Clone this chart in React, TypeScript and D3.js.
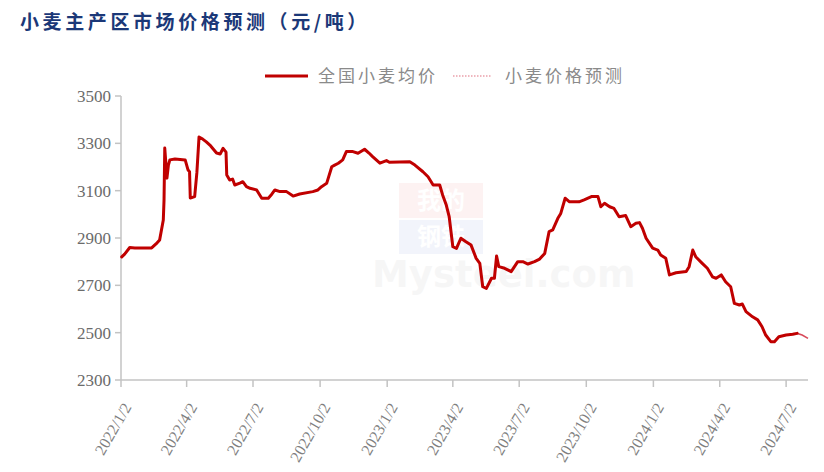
import React from "react";
import * as d3 from "d3";

const title = "小麦主产区市场价格预测（元/吨）";
const seriesNames = ["全国小麦均价", "小麦价格预测"];

const dates = ["2022-01-03","2022-01-07","2022-01-14","2022-01-21","2022-02-13","2022-02-19","2022-02-24","2022-03-01","2022-03-02","2022-03-03","2022-03-06","2022-03-08","2022-03-10","2022-03-17","2022-03-31","2022-04-04","2022-04-06","2022-04-07","2022-04-11","2022-04-13","2022-04-16","2022-04-19","2022-04-24","2022-04-29","2022-05-05","2022-05-13","2022-05-18","2022-05-22","2022-05-26","2022-05-27","2022-05-31","2022-06-04","2022-06-07","2022-06-14","2022-06-18","2022-06-23","2022-06-28","2022-07-07","2022-07-14","2022-07-23","2022-07-28","2022-08-01","2022-08-08","2022-08-17","2022-08-26","2022-09-04","2022-09-22","2022-09-29","2022-10-04","2022-10-11","2022-10-18","2022-10-22","2022-10-27","2022-11-02","2022-11-07","2022-11-16","2022-11-23","2022-12-02","2022-12-08","2022-12-13","2022-12-23","2023-01-01","2023-01-05","2023-02-02","2023-02-09","2023-02-20","2023-02-27","2023-03-06","2023-03-15","2023-03-19","2023-03-24","2023-03-28","2023-04-02","2023-04-07","2023-04-13","2023-04-20","2023-04-27","2023-05-04","2023-05-09","2023-05-13","2023-05-18","2023-05-25","2023-05-29","2023-06-01","2023-06-04","2023-06-12","2023-06-21","2023-06-30","2023-07-07","2023-07-14","2023-07-23","2023-07-30","2023-08-06","2023-08-12","2023-08-17","2023-08-24","2023-08-28","2023-09-03","2023-09-09","2023-09-22","2023-09-29","2023-10-09","2023-10-18","2023-10-22","2023-10-27","2023-11-03","2023-11-09","2023-11-16","2023-11-25","2023-12-02","2023-12-09","2023-12-14","2023-12-18","2023-12-23","2024-01-01","2024-01-08","2024-01-12","2024-01-19","2024-01-24","2024-02-02","2024-02-16","2024-02-20","2024-02-25","2024-02-29","2024-03-09","2024-03-16","2024-03-23","2024-03-28","2024-04-04","2024-04-10","2024-04-17","2024-04-22","2024-04-29","2024-05-03","2024-05-08","2024-05-17","2024-05-24","2024-05-30","2024-06-04","2024-06-11","2024-06-16","2024-06-22","2024-07-02","2024-07-11","2024-07-17"];

const avgPrice = [2820,2832,2860,2858,2858,2875,2892,2976,3060,3280,3153,3208,3230,3234,3230,3187,3180,3069,3073,3075,3175,3327,3318,3306,3289,3259,3255,3279,3263,3166,3145,3149,3124,3132,3138,3117,3110,3103,3068,3068,3086,3103,3096,3096,3077,3086,3096,3103,3117,3131,3201,3208,3216,3230,3265,3265,3258,3275,3259,3244,3216,3227,3220,3222,3208,3180,3159,3124,3124,3082,3039,2990,2863,2856,2899,2884,2870,2814,2793,2694,2687,2730,2730,2824,2779,2772,2758,2800,2800,2790,2800,2811,2835,2927,2934,2983,3004,3068,3053,3053,3061,3075,3075,3032,3047,3032,3025,2990,2995,2948,2962,2965,2941,2899,2857,2849,2828,2814,2744,2753,2758,2779,2849,2821,2793,2772,2736,2730,2744,2715,2694,2624,2617,2621,2589,2567,2554,2525,2490,2462,2462,2483,2490,2493,2497];

const forecastDates = ["2024-07-17", "2024-07-24", "2024-08-01"];
const forecastValues = [2497, 2490, 2476];

const tickDates = ["2022-01-02","2022-04-02","2022-07-02","2022-10-02","2023-01-02","2023-04-02","2023-07-02","2023-10-02","2024-01-02","2024-04-02","2024-07-02"];
const yTicks = [2300, 2500, 2700, 2900, 3100, 3300, 3500];
const xDomain = ["2022-01-02", "2024-08-01"];

const parse = d3.timeParse("%Y-%m-%d");

export default function App() {
  const W = 824, H = 472;
  const left = 121, right = 808, top = 96, bottom = 380;
  const x = d3.scaleTime().domain(xDomain.map((s) => parse(s) as Date)).range([left, right]);
  const y = d3.scaleLinear().domain([2300, 3500]).range([bottom, top]);

  const main = dates.map((d, i) => ({ d: parse(d) as Date, v: avgPrice[i] })).filter((p) => p.v !== undefined);
  const fc = forecastDates.map((d, i) => ({ d: parse(d) as Date, v: forecastValues[i] }));
  const line = d3.line<{ d: Date; v: number }>().x((p) => x(p.d)).y((p) => y(p.v));
  const fmt = d3.timeFormat("%Y/%-m/%-d");
  const axisColor = "#c3c3c3";
  const serif = "'Liberation Serif', 'DejaVu Serif', serif";
  const cjk = "'Noto Sans CJK SC', sans-serif";

  return (
    <svg width={W} height={H} style={{ position: "absolute", left: 0, top: 0, background: "#fff" }}>
      <rect width={W} height={H} fill="#fff" />
      {/* title */}
      <text x={20} y={29} fontFamily={cjk} fontWeight={700} fontSize={19} letterSpacing={3.6} fill="#1b3878">
        {title}
      </text>
      {/* legend */}
      <line x1={265} x2={308} y1={76} y2={76} stroke="#c00000" strokeWidth={3} />
      <text x={318} y={82} fontFamily={cjk} fontSize={17} letterSpacing={3} fill="#8a8a8a">{seriesNames[0]}</text>
      <line x1={453} x2={492} y1={76} y2={76} stroke="#e07080" strokeWidth={1.2} strokeDasharray="1.5,1.5" />
      <text x={505} y={82} fontFamily={cjk} fontSize={17} letterSpacing={3} fill="#8a8a8a">{seriesNames[1]}</text>

      {/* watermark */}
      <g opacity={0.06}>
        <rect x={399} y={183} width={84} height={35} fill="#e03030" />
        <rect x={399} y={220} width={84} height={34} fill="#3050c0" />
        <text x={441} y={209} textAnchor="middle" fontFamily={cjk} fontWeight={700} fontSize={24} fill="#ffffff">我的</text>
        <text x={441} y={245} textAnchor="middle" fontFamily={cjk} fontWeight={700} fontSize={24} fill="#ffffff">钢铁</text>
      </g>
      <text x={372} y={287} fontFamily="'DejaVu Sans', sans-serif" fontWeight={700} fontSize={37} fill="#000" opacity={0.03}>Mysteel.com</text>

      {/* y axis */}
      <line x1={left} x2={left} y1={top} y2={bottom} stroke={axisColor} strokeWidth={1.5} />
      {yTicks.map((t) => (
        <g key={t}>
          <line x1={left - 6} x2={left} y1={y(t)} y2={y(t)} stroke={axisColor} strokeWidth={1.5} />
          <text x={left - 10} y={y(t) + 6} textAnchor="end" fontFamily={serif} fontSize={17} fill="#6b6b6b">{t}</text>
        </g>
      ))}
      {/* x axis */}
      <line x1={left} x2={right} y1={bottom} y2={bottom} stroke={axisColor} strokeWidth={1.5} />
      {tickDates.map((s) => {
        const d = parse(s) as Date;
        const tx = x(d);
        return (
          <g key={s}>
            <line x1={tx} x2={tx} y1={bottom} y2={bottom + 7} stroke={axisColor} strokeWidth={1.5} />
            <text
              transform={`translate(${tx + 11},${bottom + 27}) rotate(-60)`}
              textAnchor="end"
              fontFamily={serif}
              fontSize={16}
              fill="#7f7f7f"
            >
              {fmt(d)}
            </text>
          </g>
        );
      })}

      {/* lines */}
      <path d={line(fc) || ""} fill="none" stroke="#d84a5a" strokeWidth={1.6} />
      <path d={line(main) || ""} fill="none" stroke="#c00000" strokeWidth={3} strokeLinejoin="round" strokeLinecap="round" />
    </svg>
  );
}
